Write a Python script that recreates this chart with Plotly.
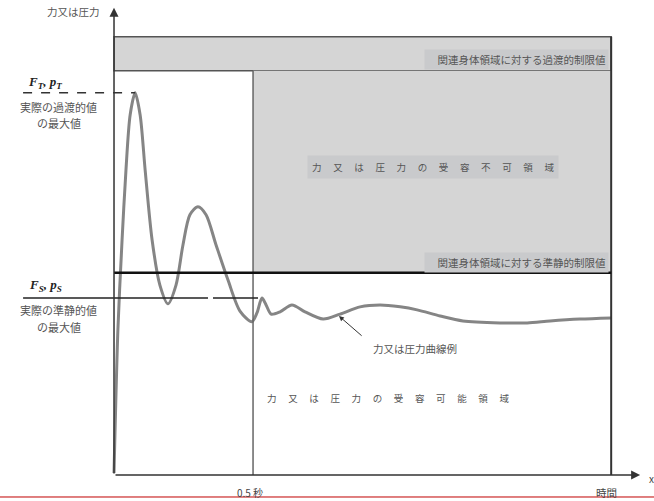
import plotly.graph_objects as go

# ---- data (time in s, force/pressure in relative units: transient max = 100) ----
t_curve = [0.000, 0.014, 0.029, 0.043, 0.058, 0.076, 0.094, 0.112, 0.137, 0.165,
           0.194, 0.223, 0.248, 0.273, 0.302, 0.331, 0.367, 0.410, 0.453, 0.496,
           0.514, 0.532, 0.547, 0.565, 0.597, 0.640, 0.687, 0.752, 0.813, 0.885,
           0.957, 1.029, 1.090, 1.173, 1.255, 1.388, 1.486, 1.568, 1.676, 1.788]
f_curve = [0.5, 38.0, 61.5, 79.8, 94.2, 100.0, 94.2, 79.8, 61.5, 49.7,
           44.8, 49.7, 60.2, 68.1, 70.2, 68.1, 60.2, 51.0, 42.9, 40.1,
           42.4, 46.3, 44.5, 42.1, 42.7, 44.5, 42.7, 40.8, 42.1, 44.0,
           44.5, 44.0, 43.2, 41.6, 40.3, 39.8, 39.8, 40.3, 40.8, 41.1]

T_HALF = 0.5          # 0.5 s mark
T_END = 1.788         # end of time range shown
T_AXIS_END = 1.892    # x-axis arrow tip
F_AXIS_TOP = 122.3    # y-axis arrow tip
F_T = 100.0           # actual transient max
F_S = 46.3            # actual quasi-static max
F_QS_LIMIT = 52.9     # quasi-static limit
F_TR_LIMIT = 105.8    # transient limit
F_TR_TOP = 114.7      # top of transient limit band
T_LABEL_LEFT = -0.327
FS_GAP = [0.338, 0.356]
FS_RIGHT = 0.518

FONT = "Noto Sans CJK JP"
GRAY_FILL = "#d5d5d5"
BOX_FILL = "#c9cacc"
LINE_DARK = "#555555"
TXT = "#555555"

fig = go.Figure()

shapes = []
# transient limit band
shapes.append(dict(type="rect", xref="x", yref="y", x0=0, x1=T_END, y0=F_TR_LIMIT, y1=F_TR_TOP,
                   fillcolor=GRAY_FILL, line=dict(color=LINE_DARK, width=1.5), layer="below"))
# unacceptable region
shapes.append(dict(type="rect", xref="x", yref="y", x0=T_HALF, x1=T_END, y0=F_QS_LIMIT, y1=F_TR_LIMIT,
                   fillcolor=GRAY_FILL, line=dict(width=0), layer="below"))
# 0.5 s vertical
shapes.append(dict(type="line", xref="x", yref="y", x0=T_HALF, x1=T_HALF, y0=0, y1=F_TR_LIMIT,
                   line=dict(color="#666666", width=1.5)))
# right boundary
shapes.append(dict(type="line", xref="x", yref="y", x0=T_END, x1=T_END, y0=0, y1=F_TR_TOP,
                   line=dict(color="#333333", width=2)))
# quasi-static limit line
shapes.append(dict(type="line", xref="x", yref="y", x0=0, x1=T_END, y0=F_QS_LIMIT, y1=F_QS_LIMIT,
                   line=dict(color="#111111", width=2.5)))
# F_S line with gap
shapes.append(dict(type="line", xref="x", yref="y", x0=T_LABEL_LEFT, x1=FS_GAP[0], y0=F_S, y1=F_S,
                   line=dict(color="#222222", width=1.5)))
shapes.append(dict(type="line", xref="x", yref="y", x0=FS_GAP[1], x1=FS_RIGHT, y0=F_S, y1=F_S,
                   line=dict(color="#222222", width=1.5)))
# F_T dashed line
shapes.append(dict(type="line", xref="x", yref="y", x0=T_LABEL_LEFT, x1=t_curve[5], y0=F_T, y1=F_T,
                   line=dict(color="#333333", width=1.5, dash="dash")))
# red rule at bottom of page
shapes.append(dict(type="line", xref="paper", yref="y", x0=0, x1=1, y0=-5.76, y1=-5.76,
                   line=dict(color="#c00000", width=1)))

fig.add_trace(go.Scatter(x=t_curve, y=f_curve, mode="lines",
                         line=dict(color="#858585", width=3, shape="spline", smoothing=0.8),
                         hoverinfo="skip", showlegend=False))

ann = []
# axes with arrows
ann.append(dict(x=0, y=F_AXIS_TOP, ax=0, ay=0, xref="x", yref="y", axref="x", ayref="y",
                showarrow=True, arrowhead=2, arrowsize=1.2, arrowwidth=1.5, arrowcolor="#333333", text=""))
ann.append(dict(x=T_AXIS_END, y=0, ax=0, ay=0, xref="x", yref="y", axref="x", ayref="y",
                showarrow=True, arrowhead=2, arrowsize=1.2, arrowwidth=1.5, arrowcolor="#333333", text=""))
# curve label arrow
ann.append(dict(x=0.809, y=41.6, ax=0.896, ay=36.1, xref="x", yref="y", axref="x", ayref="y",
                showarrow=True, arrowhead=2, arrowsize=1, arrowwidth=1, arrowcolor="#333333", text=""))


def txt(x, y, s, size=10, color=TXT, xanchor="center", font=FONT, bg=None, pad=3):
    d = dict(x=x, y=y, xref="x", yref="y", text=s, showarrow=False, xanchor=xanchor,
             yanchor="middle", font=dict(family=font, size=size, color=color))
    if bg:
        d["bgcolor"] = bg
        d["borderpad"] = pad
    ann.append(d)


SP = "　 "
txt(-0.043, 121.2, "力又は圧力", size=10.5, xanchor="right")
txt(-0.248, 102.6, "<b><i>F<sub>T</sub>, p<sub>T</sub></i></b>", size=13, color="#222222",
    font="Liberation Serif")
txt(-0.198, 96.3, "実際の過渡的値", size=11)
txt(-0.198, 92.1, "の最大値", size=11)
txt(-0.248, 49.7, "<b><i>F<sub>S</sub>, p<sub>S</sub></i></b>", size=13, color="#222222",
    font="Liberation Serif")
txt(-0.198, 43.2, "実際の準静的値", size=11)
txt(-0.198, 38.7, "の最大値", size=11)
txt(1.780, 108.6, "　関連身体領域に対する過渡的制限値", size=10.5, xanchor="right", bg=BOX_FILL, pad=2)
txt(1.780, 55.5, "　関連身体領域に対する準静的制限値", size=10.5, xanchor="right", bg=BOX_FILL, pad=2)
txt(1.147, 80.6, SP.join("力又は圧力の受容不可領域"), size=9.5, bg=BOX_FILL, pad=4)
txt(0.986, 20.2, SP.join("力又は圧力の受容可能領域"), size=9.5)
txt(1.083, 33.0, "力又は圧力曲線例", size=10.5)
txt(0.489, -4.7, "0.5 秒", size=10, color="#444444")
txt(1.770, -4.7, "時間", size=10.5, color="#444444")
txt(1.932, -0.8, "x", size=10, color="#444444")

fig.update_layout(
    width=654, height=501, margin=dict(l=0, r=0, t=0, b=0),
    paper_bgcolor="white", plot_bgcolor="white",
    xaxis=dict(range=[-0.410, 1.942], visible=False, fixedrange=True),
    yaxis=dict(range=[-6.81, 124.3], visible=False, fixedrange=True),
    shapes=shapes, annotations=ann, showlegend=False,
)

fig.write_html("out.html", post_script="document.body.style.margin='0';",
               config={"displayModeBar": False})
